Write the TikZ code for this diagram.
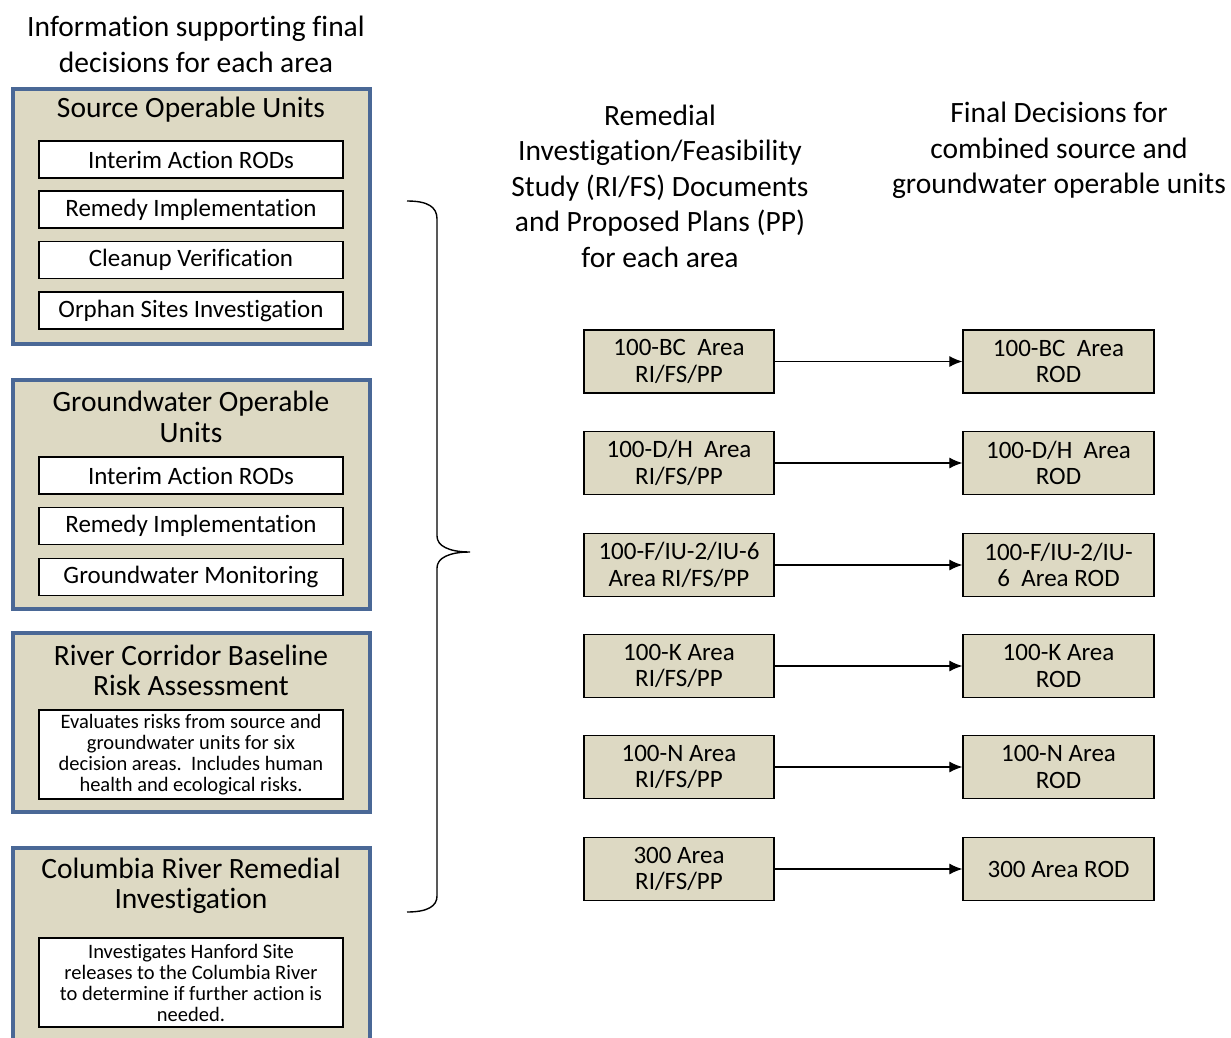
\documentclass[tikz,border=0pt]{standalone}
\usepackage{fontspec}
\setmainfont{Carlito}[Ligatures=CommonOff]
\usetikzlibrary{arrows.meta}
\definecolor{tanfill}{HTML}{DDD9C3}
\definecolor{bordblue}{HTML}{4A6896}
\begin{document}
\begin{tikzpicture}[x=1pt,y=-1pt,
  outerbox/.style={draw=bordblue, line width=3.5pt, fill=tanfill, inner sep=0pt},
  itembox/.style={draw=black, line width=1.1pt, fill=white, minimum width=304pt, minimum height=37pt, inner sep=0pt, font=\fontsize{25}{28}\selectfont},
  notebox/.style={draw=black, line width=1.1pt, fill=white, minimum width=304pt, minimum height=89pt, inner sep=0pt, align=center, font=\fontsize{20.5}{21}\selectfont},
  titletext/.style={align=center, inner sep=0pt, font=\fontsize{29.5}{30.5}\selectfont},
  headtext/.style={align=center, inner sep=0pt, font=\fontsize{29.5}{35.5}\selectfont},
  areabox/.style={draw=black, line width=1.3pt, fill=tanfill, minimum height=63pt, inner sep=0pt, align=center, font=\fontsize{25}{26.5}\selectfont},
  flow/.style={draw=black, line width=1.2pt, -{Latex[length=13pt,width=11pt]}},
  bracestyle/.style={draw=black, line width=1.4pt}
]
\useasboundingbox (0,0) rectangle (1231,1038);
\fill[white] (0,0) rectangle (1231,1038);

% left header
\node[headtext] (lhead) at (196,44.5) {Information supporting final\\decisions for each area};

% Source operable units
\node[outerbox, minimum width=357pt, minimum height=255pt] (src) at (191.5,216.5) {};
\node[titletext] (srct) at (191,110) {Source Operable Units};
\node[itembox] (s1) at (191,159.5) {Interim Action RODs};
\node[itembox] (s2) at (191,209.5) {Remedy Implementation};
\node[itembox] (s3) at (191,260) {Cleanup Verification};
\node[itembox] (s4) at (191,310.5) {Orphan Sites Investigation};

% Groundwater operable units
\node[outerbox, minimum width=357pt, minimum height=229pt] (gw) at (191.5,494.5) {};
\node[titletext] (gwt) at (191,417) {Groundwater Operable\\Units};
\node[itembox] (g1) at (191,475.5) {Interim Action RODs};
\node[itembox] (g2) at (191,526) {Remedy Implementation};
\node[itembox] (g3) at (191,577) {Groundwater Monitoring};

% River corridor
\node[outerbox, minimum width=357pt, minimum height=179pt] (rc) at (191.5,722.5) {};
\node[titletext] (rct) at (191,670.5) {River Corridor Baseline\\Risk Assessment};
\node[notebox] (rcn) at (191,754.5) {Evaluates risks from source and\\groundwater units for six\\decision areas.\ \ Includes human\\health and ecological risks.};

% Columbia river
\node[outerbox, minimum width=357pt, minimum height=204pt] (cr) at (191.5,950) {};
\node[titletext] (crt) at (191,886) {Columbia River Remedial\\Investigation};
\node[notebox] (crn) at (191,982.5) {Investigates Hanford Site\\releases to the Columbia River\\to determine if further action is\\needed.};

% brace
\path[bracestyle] (407,201) .. controls (428,201) and (437,207) .. (437,219)
  -- (437,536) .. controls (437,546) and (449,552) .. (470,552)
  .. controls (449,552) and (437,558) .. (437,568)
  -- (437,896) .. controls (437,906) and (428,912) .. (407,912);

% column headers
\node[headtext] (mhead) at (660,186) {Remedial\\Investigation/Feasibility\\Study (RI/FS) Documents\\and Proposed Plans (PP)\\for each area};
\node[headtext] (rhead) at (1059,150.5) {Final Decisions for\\combined source and\\groundwater operable units};

% area boxes
\foreach \n/\y/\lt/\rt in {
  1/361.5/{100-BC\ \ Area\\RI/FS/PP}/{100-BC\ \ Area\\ROD},
  2/463/{100-D/H\ \ Area\\RI/FS/PP}/{100-D/H\ \ Area\\ROD},
  3/565/{100-F/IU-2/IU-6\\Area RI/FS/PP}/{100-F/IU-2/IU-\\6\ \ Area ROD},
  4/666/{100-K Area\\RI/FS/PP}/{100-K Area\\ROD},
  5/767/{100-N Area\\RI/FS/PP}/{100-N Area\\ROD},
  6/869/{300 Area\\RI/FS/PP}/{300 Area ROD}}{
  \node[areabox, minimum width=190pt] (L\n) at (679,\y) {\lt};
  \node[areabox, minimum width=191pt] (R\n) at (1058.5,\y) {\rt};
  \draw[flow] (L\n) -- (R\n);
}
\end{tikzpicture}
\end{document}
